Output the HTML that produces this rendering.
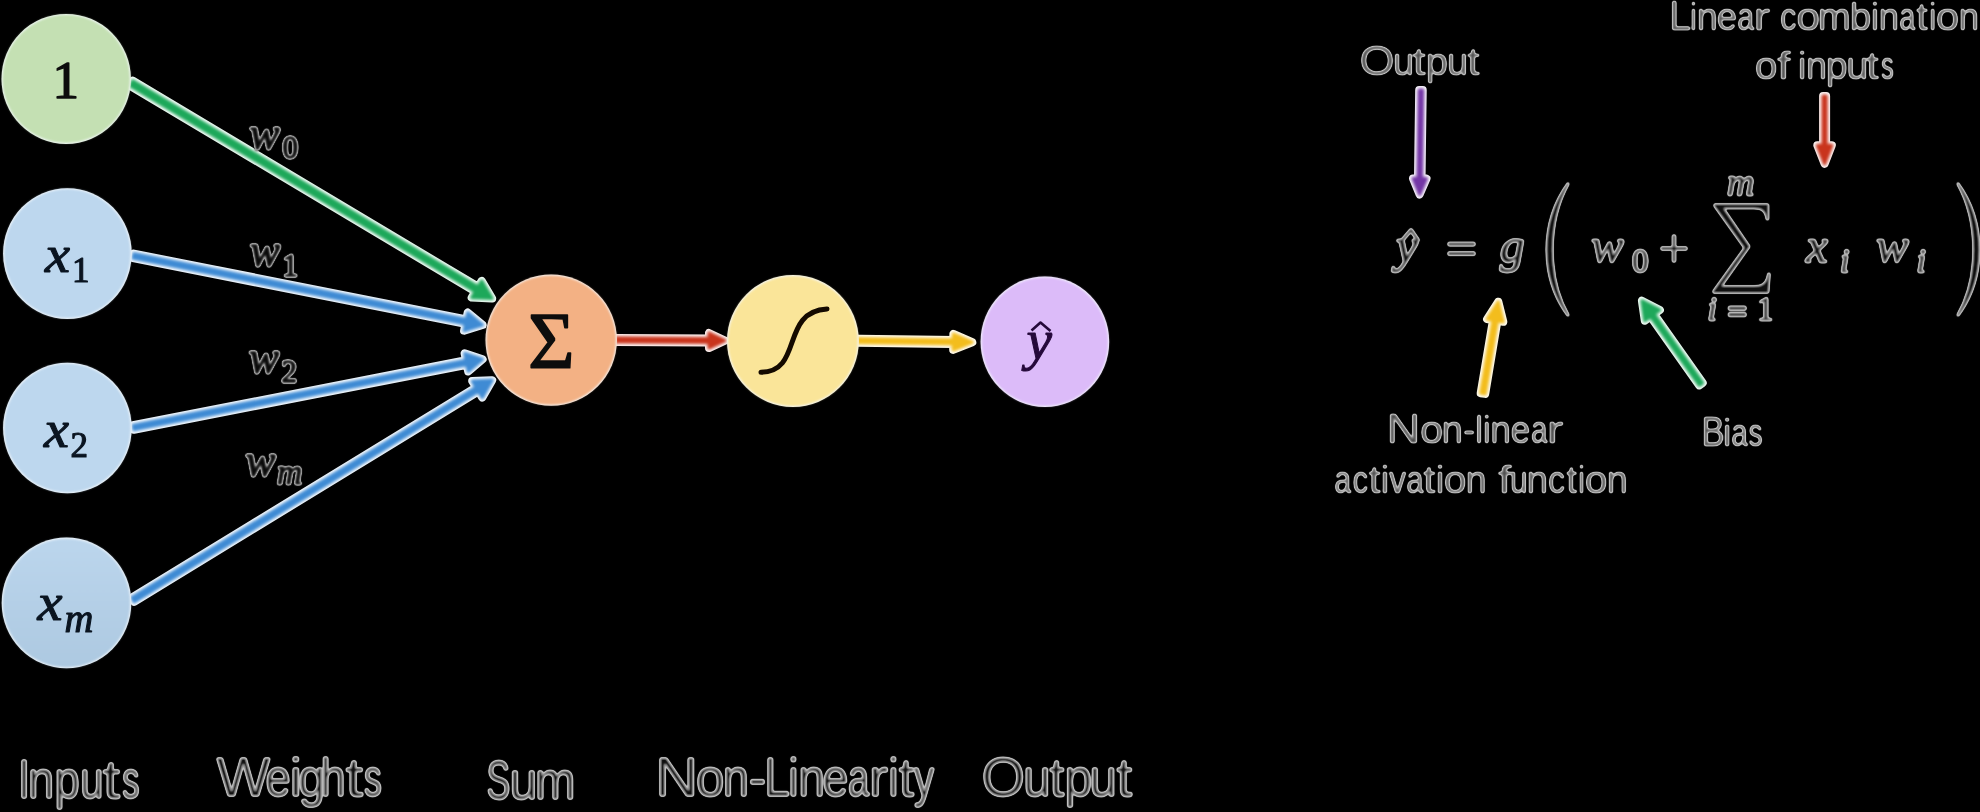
<!DOCTYPE html>
<html>
<head>
<meta charset="utf-8">
<title>Perceptron</title>
<style>
html,body{margin:0;padding:0;background:#000;}
body{width:1980px;height:812px;overflow:hidden;position:relative;font-family:"Liberation Sans",sans-serif;}
svg{position:absolute;left:0;top:0;display:block;}
.sans{font-family:"Liberation Sans",sans-serif;}
.serif{font-family:"Liberation Serif",serif;}
.it{font-style:italic;}
</style>
</head>
<body>
<svg width="1980" height="812" viewBox="0 0 1980 812">
<defs>
  <!-- halo text: bright rim, grey body, dark core -->
  <filter id="halo" x="0" y="0" width="1980" height="812" filterUnits="userSpaceOnUse" color-interpolation-filters="sRGB">
    <feGaussianBlur in="SourceAlpha" stdDeviation="1.1" result="b"/>
    <feColorMatrix in="b" type="matrix" values="0 0 0 1 0  0 0 0 1 0  0 0 0 1 0  0 0 0 1 0" result="m"/>
    <feComponentTransfer in="m">
      <feFuncR type="table" tableValues="0 0.1 0.4 0.68 0.76 0.7 0.61 0.55 0.48 0.36 0.06"/>
      <feFuncG type="table" tableValues="0 0.1 0.4 0.68 0.76 0.7 0.61 0.55 0.48 0.36 0.06"/>
      <feFuncB type="table" tableValues="0 0.1 0.4 0.68 0.76 0.7 0.61 0.55 0.48 0.36 0.06"/>
      <feFuncA type="table" tableValues="0 1 1 1 1"/>
    </feComponentTransfer>
  </filter>
  <filter id="halo2" x="0" y="0" width="1980" height="812" filterUnits="userSpaceOnUse" color-interpolation-filters="sRGB">
    <feGaussianBlur in="SourceAlpha" stdDeviation="1.0" result="b"/>
    <feColorMatrix in="b" type="matrix" values="0 0 0 1 0  0 0 0 1 0  0 0 0 1 0  0 0 0 1 0" result="m"/>
    <feComponentTransfer in="m">
      <feFuncR type="table" tableValues="0 0.62 0.5 0.22 0.04"/>
      <feFuncG type="table" tableValues="0 0.62 0.5 0.22 0.04"/>
      <feFuncB type="table" tableValues="0 0.62 0.5 0.22 0.04"/>
      <feFuncA type="table" tableValues="0 1 1 1 1"/>
    </feComponentTransfer>
  </filter>
  <filter id="halo3" x="0" y="0" width="1980" height="812" filterUnits="userSpaceOnUse" color-interpolation-filters="sRGB">
    <feGaussianBlur in="SourceAlpha" stdDeviation="1.0" result="b"/>
    <feColorMatrix in="b" type="matrix" values="0 0 0 1 0  0 0 0 1 0  0 0 0 1 0  0 0 0 1 0" result="m"/>
    <feComponentTransfer in="m">
      <feFuncR type="table" tableValues="0 0.1 0.4 0.66 0.72 0.66 0.58 0.5 0.42 0.3 0.06"/>
      <feFuncG type="table" tableValues="0 0.1 0.4 0.66 0.72 0.66 0.58 0.5 0.42 0.3 0.06"/>
      <feFuncB type="table" tableValues="0 0.1 0.4 0.66 0.72 0.66 0.58 0.5 0.42 0.3 0.06"/>
      <feFuncA type="table" tableValues="0 1 1 1 1"/>
    </feComponentTransfer>
  </filter>
  <filter id="halo4" x="0" y="0" width="1980" height="812" filterUnits="userSpaceOnUse" color-interpolation-filters="sRGB">
    <feGaussianBlur in="SourceAlpha" stdDeviation="1.0" result="b"/>
    <feColorMatrix in="b" type="matrix" values="0 0 0 1 0  0 0 0 1 0  0 0 0 1 0  0 0 0 1 0" result="m"/>
    <feComponentTransfer in="m">
      <feFuncR type="table" tableValues="0 0 0.04 0.2 0.55 0.76 0.7 0.6 0.5 0.42 0.3"/>
      <feFuncG type="table" tableValues="0 0 0.04 0.2 0.55 0.76 0.7 0.6 0.5 0.42 0.3"/>
      <feFuncB type="table" tableValues="0 0 0.04 0.2 0.55 0.76 0.7 0.6 0.5 0.42 0.3"/>
      <feFuncA type="table" tableValues="0 1 1 1 1"/>
    </feComponentTransfer>
  </filter>
  <filter id="soft" x="0" y="0" width="1980" height="812" filterUnits="userSpaceOnUse" color-interpolation-filters="sRGB">
    <feGaussianBlur stdDeviation="0.8"/>
  </filter>
  <filter id="soft3" x="0" y="0" width="1980" height="812" filterUnits="userSpaceOnUse" color-interpolation-filters="sRGB">
    <feGaussianBlur stdDeviation="0.35"/>
  </filter>
  <filter id="soft4" x="0" y="0" width="1980" height="812" filterUnits="userSpaceOnUse" color-interpolation-filters="sRGB">
    <feGaussianBlur stdDeviation="1.45"/>
  </filter>
  <filter id="soft2" x="0" y="0" width="1980" height="812" filterUnits="userSpaceOnUse" color-interpolation-filters="sRGB">
    <feGaussianBlur stdDeviation="0.6"/>
  </filter>
  <linearGradient id="gxm" x1="0" y1="0" x2="0" y2="1">
    <stop offset="0" stop-color="#bcd6ed"/><stop offset="1" stop-color="#adc9e1"/>
  </linearGradient>
</defs>
<rect x="0" y="0" width="1980" height="812" fill="#000"/>

<!-- ===== halo text layer ===== -->
<g id="labels" filter="url(#halo)" fill="#fff">
  <g class="sans">
    <text transform="translate(17.99,798.20) scale(0.795,1)" font-size="54.9">I</text>
    <text transform="translate(27.99,798.20) scale(0.888,1)" font-size="53.0">n</text>
    <text transform="translate(54.56,798.20) scale(0.853,1)" font-size="53.0">p</text>
    <text transform="translate(80.29,798.20) scale(0.786,1)" font-size="53.0">u</text>
    <text transform="translate(102.86,798.20) scale(1.179,1)" font-size="53.0">t</text>
    <text transform="translate(122.14,798.20) scale(0.649,1)" font-size="53.0">s</text>
    <text transform="translate(216.52,795.50) scale(1.037,1)" font-size="54.9">W</text>
    <text transform="translate(265.40,795.50) scale(0.855,1)" font-size="53.0">e</text>
    <text transform="translate(289.39,795.50) scale(1.072,1)" font-size="53.0">i</text>
    <text transform="translate(298.40,795.50) scale(0.897,1)" font-size="53.0">g</text>
    <text transform="translate(320.48,795.50) scale(0.854,1)" font-size="53.0">h</text>
    <text transform="translate(345.44,795.50) scale(1.201,1)" font-size="53.0">t</text>
    <text transform="translate(364.00,795.50) scale(0.671,1)" font-size="53.0">s</text>
    <text transform="translate(486.57,799.20) scale(0.647,1)" font-size="54.9">S</text>
    <text transform="translate(509.43,799.20) scale(0.950,1)" font-size="53.0">u</text>
    <text transform="translate(534.99,799.20) scale(0.918,1)" font-size="53.0">m</text>
    <text transform="translate(655.13,795.70) scale(1.083,1)" font-size="54.9">N</text>
    <text transform="translate(696.06,795.70) scale(0.963,1)" font-size="53.0">o</text>
    <text transform="translate(722.79,795.70) scale(0.888,1)" font-size="53.0">n</text>
    <text transform="translate(748.53,795.70) scale(1.017,1)" font-size="53.0">-</text>
    <text transform="translate(764.48,795.70) scale(0.827,1)" font-size="54.9">L</text>
    <text transform="translate(788.28,795.70) scale(0.879,1)" font-size="53.0">i</text>
    <text transform="translate(798.23,795.70) scale(0.906,1)" font-size="53.0">n</text>
    <text transform="translate(822.54,795.70) scale(0.879,1)" font-size="53.0">e</text>
    <text transform="translate(847.90,795.70) scale(0.719,1)" font-size="53.0">a</text>
    <text transform="translate(868.85,795.70) scale(1.102,1)" font-size="53.0">r</text>
    <text transform="translate(888.28,795.70) scale(0.879,1)" font-size="53.0">i</text>
    <text transform="translate(898.67,795.70) scale(1.039,1)" font-size="53.0">t</text>
    <text transform="translate(913.98,795.70) scale(0.762,1)" font-size="53.0">y</text>
    <text transform="translate(981.47,796.40) scale(1.020,1)" font-size="54.9">O</text>
    <text transform="translate(1023.20,796.40) scale(0.928,1)" font-size="53.0">u</text>
    <text transform="translate(1049.60,796.40) scale(1.010,1)" font-size="53.0">t</text>
    <text transform="translate(1064.47,796.40) scale(0.937,1)" font-size="53.0">p</text>
    <text transform="translate(1089.50,796.40) scale(0.928,1)" font-size="53.0">u</text>
    <text transform="translate(1116.45,796.40) scale(1.069,1)" font-size="53.0">t</text>
  </g>
</g>
<g id="labels2" filter="url(#halo4)" fill="#fff">
  <g class="sans">
    <text transform="translate(1359.43,74.80) scale(1.075,1)" font-size="42.0">O</text>
    <text transform="translate(1393.09,74.80) scale(0.984,1)" font-size="38.5">u</text>
    <text transform="translate(1412.52,74.80) scale(1.258,1)" font-size="38.5">t</text>
    <text transform="translate(1425.74,74.80) scale(1.041,1)" font-size="38.5">p</text>
    <text transform="translate(1446.99,74.80) scale(0.984,1)" font-size="38.5">u</text>
    <text transform="translate(1467.27,74.80) scale(1.177,1)" font-size="38.5">t</text>
    <text transform="translate(1669.13,29.50) scale(0.935,1)" font-size="42.0">L</text>
    <text transform="translate(1690.09,29.50) scale(0.797,1)" font-size="38.5">i</text>
    <text transform="translate(1696.85,29.50) scale(0.984,1)" font-size="38.5">n</text>
    <text transform="translate(1716.80,29.50) scale(0.956,1)" font-size="38.5">e</text>
    <text transform="translate(1737.27,29.50) scale(0.793,1)" font-size="38.5">a</text>
    <text transform="translate(1753.34,29.50) scale(1.340,1)" font-size="38.5">r</text>
    <text transform="translate(1780.05,29.50) scale(0.866,1)" font-size="38.5">c</text>
    <text transform="translate(1796.16,29.50) scale(1.106,1)" font-size="38.5">o</text>
    <text transform="translate(1817.82,29.50) scale(1.034,1)" font-size="38.5">m</text>
    <text transform="translate(1849.63,29.50) scale(1.007,1)" font-size="38.5">b</text>
    <text transform="translate(1870.84,29.50) scale(0.974,1)" font-size="38.5">i</text>
    <text transform="translate(1878.40,29.50) scale(0.966,1)" font-size="38.5">n</text>
    <text transform="translate(1899.23,29.50) scale(0.753,1)" font-size="38.5">a</text>
    <text transform="translate(1916.10,29.50) scale(1.126,1)" font-size="38.5">t</text>
    <text transform="translate(1929.04,29.50) scale(0.856,1)" font-size="38.5">i</text>
    <text transform="translate(1935.78,29.50) scale(1.095,1)" font-size="38.5">o</text>
    <text transform="translate(1958.40,29.50) scale(0.966,1)" font-size="38.5">n</text>
    <text transform="translate(1754.63,79.20) scale(1.062,1)" font-size="38.5">o</text>
    <text transform="translate(1776.65,79.20) scale(1.304,1)" font-size="38.5">f</text>
    <text transform="translate(1797.79,79.20) scale(1.033,1)" font-size="38.5">i</text>
    <text transform="translate(1805.95,79.20) scale(0.984,1)" font-size="38.5">n</text>
    <text transform="translate(1825.69,79.20) scale(1.024,1)" font-size="38.5">p</text>
    <text transform="translate(1846.27,79.20) scale(1.033,1)" font-size="38.5">u</text>
    <text transform="translate(1865.95,79.20) scale(1.218,1)" font-size="38.5">t</text>
    <text transform="translate(1880.93,79.20) scale(0.667,1)" font-size="38.5">s</text>
    <text transform="translate(1386.41,443.00) scale(1.117,1)" font-size="42.0">N</text>
    <text transform="translate(1420.10,443.00) scale(1.084,1)" font-size="38.5">o</text>
    <text transform="translate(1441.40,443.00) scale(1.002,1)" font-size="38.5">n</text>
    <text transform="translate(1463.03,443.00) scale(0.954,1)" font-size="38.5">-</text>
    <text transform="translate(1475.17,443.00) scale(0.885,1)" font-size="38.5">l</text>
    <text transform="translate(1483.07,443.00) scale(0.885,1)" font-size="38.5">i</text>
    <text transform="translate(1490.30,443.00) scale(0.966,1)" font-size="38.5">n</text>
    <text transform="translate(1510.45,443.00) scale(0.928,1)" font-size="38.5">e</text>
    <text transform="translate(1530.90,443.00) scale(0.773,1)" font-size="38.5">a</text>
    <text transform="translate(1546.44,443.00) scale(1.340,1)" font-size="38.5">r</text>
    <text transform="translate(1334.27,493.20) scale(0.793,1)" font-size="38.5">a</text>
    <text transform="translate(1352.43,493.20) scale(0.818,1)" font-size="38.5">c</text>
    <text transform="translate(1368.39,493.20) scale(1.147,1)" font-size="38.5">t</text>
    <text transform="translate(1380.59,493.20) scale(1.033,1)" font-size="38.5">i</text>
    <text transform="translate(1389.11,493.20) scale(0.892,1)" font-size="38.5">v</text>
    <text transform="translate(1406.13,493.20) scale(0.814,1)" font-size="38.5">a</text>
    <text transform="translate(1422.97,493.20) scale(1.177,1)" font-size="38.5">t</text>
    <text transform="translate(1435.41,493.20) scale(1.063,1)" font-size="38.5">i</text>
    <text transform="translate(1443.73,493.20) scale(1.062,1)" font-size="38.5">o</text>
    <text transform="translate(1465.53,493.20) scale(0.990,1)" font-size="38.5">n</text>
    <text transform="translate(1497.75,493.20) scale(1.304,1)" font-size="38.5">f</text>
    <text transform="translate(1509.89,493.20) scale(0.825,1)" font-size="38.5">u</text>
    <text transform="translate(1526.59,493.20) scale(1.008,1)" font-size="38.5">n</text>
    <text transform="translate(1547.90,493.20) scale(0.896,1)" font-size="38.5">c</text>
    <text transform="translate(1566.16,493.20) scale(1.015,1)" font-size="38.5">t</text>
    <text transform="translate(1577.92,493.20) scale(0.826,1)" font-size="38.5">i</text>
    <text transform="translate(1584.83,493.20) scale(1.062,1)" font-size="38.5">o</text>
    <text transform="translate(1606.65,493.20) scale(0.984,1)" font-size="38.5">n</text>
    <text transform="translate(1701.51,446.00) scale(0.824,1)" font-size="42.0">B</text>
    <text transform="translate(1722.69,446.00) scale(1.033,1)" font-size="38.5">i</text>
    <text transform="translate(1731.20,446.00) scale(0.773,1)" font-size="38.5">a</text>
    <text transform="translate(1748.56,446.00) scale(0.733,1)" font-size="38.5">s</text>
  </g>
</g>
<g id="formula" filter="url(#halo3)" fill="#fff">
  <!-- formula -->
  <g class="serif it" font-size="49" stroke="#fff" stroke-width="0.8" stroke-linejoin="round">
    <text x="1396" y="262">y</text>
    <path d="M1402,240.5 L1411,230 L1418.5,241" fill="none" stroke="#fff" stroke-width="2.6"/>
    <text x="1500" y="262">g</text>
    <text x="1591" y="262">w</text>
    <text x="1632" y="272" font-size="33" font-style="normal">0</text>
    <text x="1806" y="262">x</text>
    <text x="1840" y="272" font-size="34">i</text>
    <text x="1876" y="262">w</text>
    <text x="1916.5" y="272" font-size="34">i</text>
    <text x="1727" y="195" font-size="38">m</text>
    <text x="1707.5" y="320" font-size="34">i</text>
    <text x="1757" y="320" font-size="33" font-style="normal">1</text>
  </g>
  <!-- equals signs and plus -->
  <rect x="1448" y="242.5" width="27" height="3.2"/>
  <rect x="1448" y="252" width="27" height="3.2"/>
  <rect x="1728.5" y="306.4" width="17.5" height="3.6"/>
  <rect x="1728.5" y="312.8" width="17.5" height="3.6"/>
  <rect x="1661" y="247" width="26" height="3"/>
  <rect x="1672.5" y="235" width="3" height="27"/>
  <!-- big parens -->
  <path d="M1568.5,183 C1540,222 1540,278 1568.5,316 C1546.6,278 1546.6,222 1568.5,183 Z" stroke="#fff" stroke-width="1.6"/>
  <path d="M1957.5,183 C1986,222 1986,278 1957.5,316 C1979.4,278 1979.4,222 1957.5,183 Z" stroke="#fff" stroke-width="1.6"/>
  <!-- big sigma -->
  <path d="M1714,204 L1768.5,204 L1768.5,220 L1766.5,220 C1765.5,211 1762,208.5 1754,208.5 L1724,208.5 L1750,246.5 L1722,286 L1754,286 C1763,286 1766.5,283 1768,273 L1770,273 L1768.5,293 L1713,293 L1713,291 L1744,248 L1714,206 Z"/>
</g>

<!-- ===== shapes ===== -->
<g id="fringe" filter="url(#soft3)">
<polygon fill="#f8fcfa" stroke="#f8fcfa" stroke-width="8.0" stroke-linejoin="round" points="130.0,85.7 475.3,291.6 471.7,297.6 492.2,298.5 481.7,280.9 478.1,286.8 132.9,80.8"/>
<polygon fill="#f9fbfd" stroke="#f9fbfd" stroke-width="8.0" stroke-linejoin="round" points="133.0,258.1 465.5,323.9 464.1,330.7 482.6,324.9 467.7,312.6 466.3,319.4 133.9,253.6"/>
<polygon fill="#f9fbfd" stroke="#f9fbfd" stroke-width="8.0" stroke-linejoin="round" points="133.9,429.7 466.8,364.7 468.2,371.5 482.6,359.3 464.6,353.3 465.9,360.2 133.0,425.2"/>
<polygon fill="#f9fbfd" stroke="#f9fbfd" stroke-width="8.0" stroke-linejoin="round" points="134.2,601.8 478.5,391.4 482.3,397.6 492.2,380.2 472.2,381.0 476.0,387.3 131.7,597.7"/>
<polygon fill="#fdf8f8" stroke="#fdf8f8" stroke-width="8.0" stroke-linejoin="round" points="616.0,341.9 709.0,342.5 709.0,348.0 725.0,340.6 709.0,333.0 709.0,338.5 616.0,337.9"/>
<polygon fill="#fefdf8" stroke="#fefdf8" stroke-width="8.0" stroke-linejoin="round" points="858.0,342.7 953.3,343.9 953.2,349.9 972.3,342.2 953.4,333.9 953.3,339.9 858.0,338.7"/>
<polygon fill="#faf8fc" stroke="#faf8fc" stroke-width="8.0" stroke-linejoin="round" points="1419.2,90.0 1418.0,178.5 1413.0,178.4 1419.6,194.5 1426.5,178.6 1421.5,178.5 1422.7,90.0"/>
<polygon fill="#fdf8f8" stroke="#fdf8f8" stroke-width="8.0" stroke-linejoin="round" points="1823.1,96.0 1823.1,145.3 1817.3,145.3 1824.6,163.8 1831.8,145.3 1826.1,145.3 1826.1,96.0"/>
<polygon fill="#fefdf8" stroke="#fefdf8" stroke-width="8.0" stroke-linejoin="round" points="1485.2,393.9 1497.4,320.9 1503.3,321.8 1498.3,301.7 1487.1,319.1 1493.0,320.1 1480.7,393.2"/>
<polygon fill="#f8fcfa" stroke="#f8fcfa" stroke-width="8.0" stroke-linejoin="round" points="1702.7,382.9 1654.1,314.1 1659.9,310.0 1641.9,300.7 1644.8,320.7 1650.6,316.6 1699.2,385.4"/>
</g>
<g id="arrows" filter="url(#soft4)">
<polygon fill="#1da85a" stroke="#1da85a" stroke-width="3.2" stroke-linejoin="round" points="130.0,85.7 475.3,291.6 471.7,297.6 492.2,298.5 481.7,280.9 478.1,286.8 132.9,80.8"/>
<polygon fill="#3f8bd4" stroke="#3f8bd4" stroke-width="3.2" stroke-linejoin="round" points="133.0,258.1 465.5,323.9 464.1,330.7 482.6,324.9 467.7,312.6 466.3,319.4 133.9,253.6"/>
<polygon fill="#3f8bd4" stroke="#3f8bd4" stroke-width="3.2" stroke-linejoin="round" points="133.9,429.7 466.8,364.7 468.2,371.5 482.6,359.3 464.6,353.3 465.9,360.2 133.0,425.2"/>
<polygon fill="#3f8bd4" stroke="#3f8bd4" stroke-width="3.2" stroke-linejoin="round" points="134.2,601.8 478.5,391.4 482.3,397.6 492.2,380.2 472.2,381.0 476.0,387.3 131.7,597.7"/>
<polygon fill="#c9341c" stroke="#c9341c" stroke-width="3.2" stroke-linejoin="round" points="616.0,341.9 709.0,342.5 709.0,348.0 725.0,340.6 709.0,333.0 709.0,338.5 616.0,337.9"/>
<polygon fill="#f3bd1d" stroke="#f3bd1d" stroke-width="3.2" stroke-linejoin="round" points="858.0,342.7 953.3,343.9 953.2,349.9 972.3,342.2 953.4,333.9 953.3,339.9 858.0,338.7"/>
<polygon fill="#7436a6" stroke="#7436a6" stroke-width="3.2" stroke-linejoin="round" points="1419.2,90.0 1418.0,178.5 1413.0,178.4 1419.6,194.5 1426.5,178.6 1421.5,178.5 1422.7,90.0"/>
<polygon fill="#c9341c" stroke="#c9341c" stroke-width="3.2" stroke-linejoin="round" points="1823.1,96.0 1823.1,145.3 1817.3,145.3 1824.6,163.8 1831.8,145.3 1826.1,145.3 1826.1,96.0"/>
<polygon fill="#f3bd1d" stroke="#f3bd1d" stroke-width="3.2" stroke-linejoin="round" points="1485.2,393.9 1497.4,320.9 1503.3,321.8 1498.3,301.7 1487.1,319.1 1493.0,320.1 1480.7,393.2"/>
<polygon fill="#1da85a" stroke="#1da85a" stroke-width="3.2" stroke-linejoin="round" points="1702.7,382.9 1654.1,314.1 1659.9,310.0 1641.9,300.7 1644.8,320.7 1650.6,316.6 1699.2,385.4"/>
</g>
<g id="math" filter="url(#halo2)" fill="#fff">
  <!-- weights -->
  <g class="serif it" font-size="47" stroke="#fff" stroke-width="1.5" stroke-linejoin="round">
    <text x="249.5" y="148.5" textLength="30" lengthAdjust="spacingAndGlyphs">w</text><text x="282.5" y="158" font-size="31" font-style="normal" stroke-width="1.3">0</text>
    <text x="250" y="266" textLength="30" lengthAdjust="spacingAndGlyphs">w</text><text x="282.5" y="276" font-size="31" font-style="normal" stroke-width="1.3">1</text>
    <text x="249" y="372.5" textLength="30" lengthAdjust="spacingAndGlyphs">w</text><text x="281.5" y="381.5" font-size="31" font-style="normal" stroke-width="1.3">2</text>
    <text x="245.5" y="475.5" textLength="30" lengthAdjust="spacingAndGlyphs">w</text><text x="277" y="484" font-size="35" stroke-width="1.2">m</text>
  </g>
</g>
<g id="cfringe" filter="url(#soft3)" fill="#f4f8fb">
  <ellipse cx="66.2" cy="78.9" rx="64.7" ry="65.0"/>
  <ellipse cx="67.4" cy="253.6" rx="64.3" ry="65.4"/>
  <ellipse cx="67.4" cy="428" rx="64.3" ry="65.3"/>
  <ellipse cx="66.5" cy="602.9" rx="64.8" ry="65.4"/>
  <ellipse cx="551.2" cy="340.1" rx="65.7" ry="65.6"/>
  <ellipse cx="792.9" cy="341" rx="65.9" ry="65.9"/>
  <ellipse cx="1044.9" cy="341.7" rx="64.3" ry="65.3"/>
</g>
<g id="shapes" filter="url(#soft)">
  <ellipse cx="66.2" cy="78.9" rx="63.8" ry="64.1" fill="#c4e0b3"/>
  <ellipse cx="67.4" cy="253.6" rx="63.4" ry="64.5" fill="#bdd7ee"/>
  <ellipse cx="67.4" cy="428" rx="63.4" ry="64.4" fill="#bdd7ee"/>
  <ellipse cx="66.5" cy="602.9" rx="63.9" ry="64.5" fill="url(#gxm)"/>
  <ellipse cx="551.2" cy="340.1" rx="64.8" ry="64.7" fill="#f3b184"/>
  <ellipse cx="792.9" cy="341" rx="65.0" ry="65.0" fill="#fae599"/>
  <ellipse cx="1044.9" cy="341.7" rx="63.4" ry="64.4" fill="#dcbbf9"/>
</g>
<!-- text in circles -->
<g id="ctext" filter="url(#soft2)" fill="#0d0d0d" stroke="#0d0d0d" stroke-width="1.5" stroke-linejoin="round" class="serif">
  <text x="52.5" y="97.5" font-size="53">1</text>
  <g class="it" font-size="53" stroke-width="1.1" fill="#0a1420" stroke="#0a1420">
    <text x="45" y="271.5" textLength="25" lengthAdjust="spacingAndGlyphs">x</text><text x="72" y="282" font-size="35" font-style="normal">1</text>
    <text x="44" y="446.5" textLength="25" lengthAdjust="spacingAndGlyphs">x</text><text x="70.5" y="456.5" font-size="35" font-style="normal">2</text>
    <text x="37.5" y="620" textLength="25" lengthAdjust="spacingAndGlyphs">x</text><text x="64.5" y="631.5" font-size="40">m</text>
  </g>
  <text x="528" y="367.5" font-size="80">&#931;</text>
  <path d="M761,372.2 C803.5,372.2 780,311.5 827,309" fill="none" stroke="#140a00" stroke-width="5" stroke-linecap="round"/>
  <g class="it" font-size="56" fill="#25093a" stroke="#25093a" stroke-width="1">
    <text x="1026.5" y="358.5" textLength="25.5" lengthAdjust="spacingAndGlyphs">y</text>
    <path d="M1031.5,330.5 L1040.5,322.5 L1050.5,331" fill="none" stroke-width="2.6"/>
  </g>
</g>
</svg>
</body>
</html>
